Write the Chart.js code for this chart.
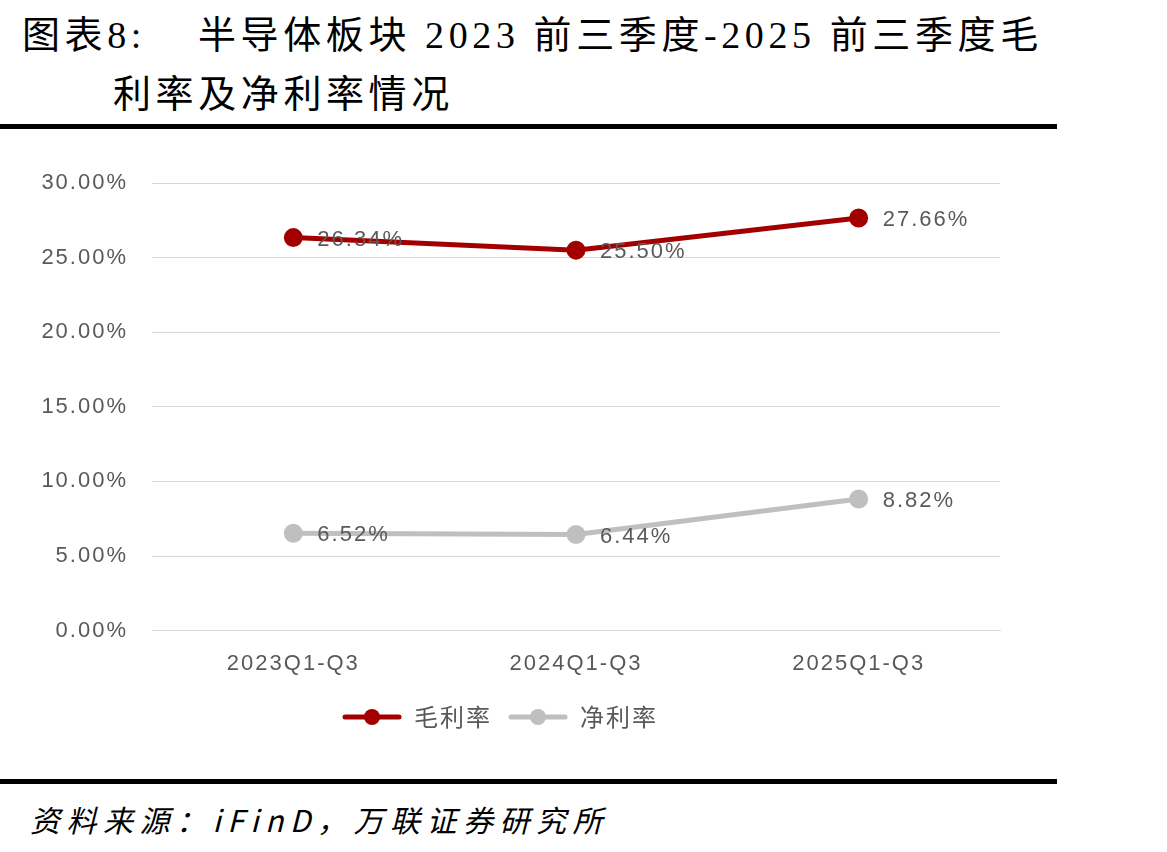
<!DOCTYPE html>
<html>
<head>
<meta charset="utf-8">
<script src="https://cdn.jsdelivr.net/npm/chart.js@4"></script>
<style>
  body { margin: 0; background: #fff; width: 1167px; height: 852px; position: relative; overflow: hidden; }
  .t { position: absolute; font-family: "Liberation Serif", "Noto Sans CJK SC", serif; font-size: 38px; letter-spacing: 4.6px; color: #000; white-space: nowrap; }
  .rule { position: absolute; left: 0; width: 1057px; height: 5px; background: #000; }
  #box { position: absolute; left: 0; top: 140px; width: 1060px; height: 625px; }
  .src { position: absolute; left: 30px; top: 797px; font-family: "Noto Sans CJK SC", sans-serif; font-style: italic; font-size: 30px; letter-spacing: 6.5px; color: #000; white-space: nowrap; }
</style>
</head>
<body>
<div class="t" style="left:22px;top:4px;">图表8:</div>
<div class="t" style="left:198px;top:4px;">半导体板块 2023 前三季度-2025 前三季度毛</div>
<div class="t" style="left:113px;top:63px;">利率及净利率情况</div>
<div class="rule" style="top:124px;"></div>
<div id="box"><canvas id="c"></canvas></div>
<div class="rule" style="top:779px;"></div>
<div class="src">资料来源：iFinD，万联证券研究所</div>
<script>
// 数据
const categories = ['2023Q1-Q3', '2024Q1-Q3', '2025Q1-Q3'];
const grossMargin = [26.34, 25.50, 27.66];
const netMargin = [6.52, 6.44, 8.82];

const red = '#A20000';
const grey = '#BFBFBF';
const txt = '#595959';
const numFont = '"Liberation Sans", Arial, sans-serif';

// legend icon: line with a dot
function legendIcon(color) {
    const cv = document.createElement('canvas');
    cv.width = 60; cv.height = 18;
    const g = cv.getContext('2d');
    g.strokeStyle = color; g.lineWidth = 5; g.lineCap = 'round';
    g.beginPath(); g.moveTo(3, 9); g.lineTo(57, 9); g.stroke();
    g.fillStyle = color;
    g.beginPath(); g.arc(30, 9, 8, 0, Math.PI * 2); g.fill();
    return cv;
}

// wider letter spacing, like the original
const spacing = {
    id: 'spacing',
    beforeDraw(chart) { chart.ctx.letterSpacing = '2px'; },
    beforeLayout(chart) { chart.ctx.letterSpacing = '2px'; }
};

// value labels to the right of each point
const valueLabels = {
    id: 'valueLabels',
    afterDatasetsDraw(chart) {
        const ctx = chart.ctx;
        ctx.save();
        ctx.letterSpacing = '2px';
        ctx.font = '22px ' + numFont;
        ctx.fillStyle = txt;
        ctx.textAlign = 'left';
        ctx.textBaseline = 'middle';
        chart.data.datasets.forEach((ds, i) => {
            chart.getDatasetMeta(i).data.forEach((pt, j) => {
                ctx.fillText(ds.data[j].toFixed(2) + '%', pt.x + 24, pt.y + 2);
            });
        });
        ctx.restore();
    }
};

new Chart(document.getElementById('c'), {
    type: 'line',
    data: {
        labels: categories,
        datasets: [
            {
                label: '毛利率', data: grossMargin,
                borderColor: red, backgroundColor: red,
                borderWidth: 5, pointRadius: 7, pointHoverRadius: 7,
                pointStyle: 'circle'
            },
            {
                label: '净利率', data: netMargin,
                borderColor: grey, backgroundColor: grey,
                borderWidth: 5, pointRadius: 7, pointHoverRadius: 7,
                pointStyle: 'circle'
            }
        ]
    },
    options: {
        responsive: true,
        maintainAspectRatio: false,
        animation: false,
        layout: { padding: { left: 0, right: 60, top: 43, bottom: 26 } },
        scales: {
            x: {
                offset: true,
                grid: { display: false },
                border: { color: '#D9D9D9', width: 1 },
                ticks: { color: txt, font: { family: numFont, size: 22 }, padding: 12 }
            },
            y: {
                min: 0, max: 30,
                afterFit(scale) { scale.width = 152; },
                grid: { color: '#D9D9D9', lineWidth: 1, drawTicks: false },
                border: { display: false },
                ticks: {
                    stepSize: 5, padding: 24, color: txt,
                    font: { family: numFont, size: 22 },
                    callback: v => v.toFixed(2) + '%'
                }
            }
        },
        plugins: {
            tooltip: { enabled: false },
            legend: {
                position: 'bottom',
                labels: {
                    usePointStyle: true,
                    pointStyleWidth: 60,
                    padding: 16,
                    color: txt,
                    font: { family: '"Noto Sans CJK SC", sans-serif', size: 24 },
                    generateLabels(chart) {
                        return chart.data.datasets.map((ds, i) => ({
                            text: ds.label,
                            pointStyle: legendIcon(ds.borderColor),
                            fillStyle: ds.borderColor,
                            strokeStyle: ds.borderColor,
                            fontColor: txt,
                            lineWidth: 0,
                            datasetIndex: i
                        }));
                    }
                }
            }
        }
    },
    plugins: [spacing, valueLabels]
});
</script>
</body>
</html>
